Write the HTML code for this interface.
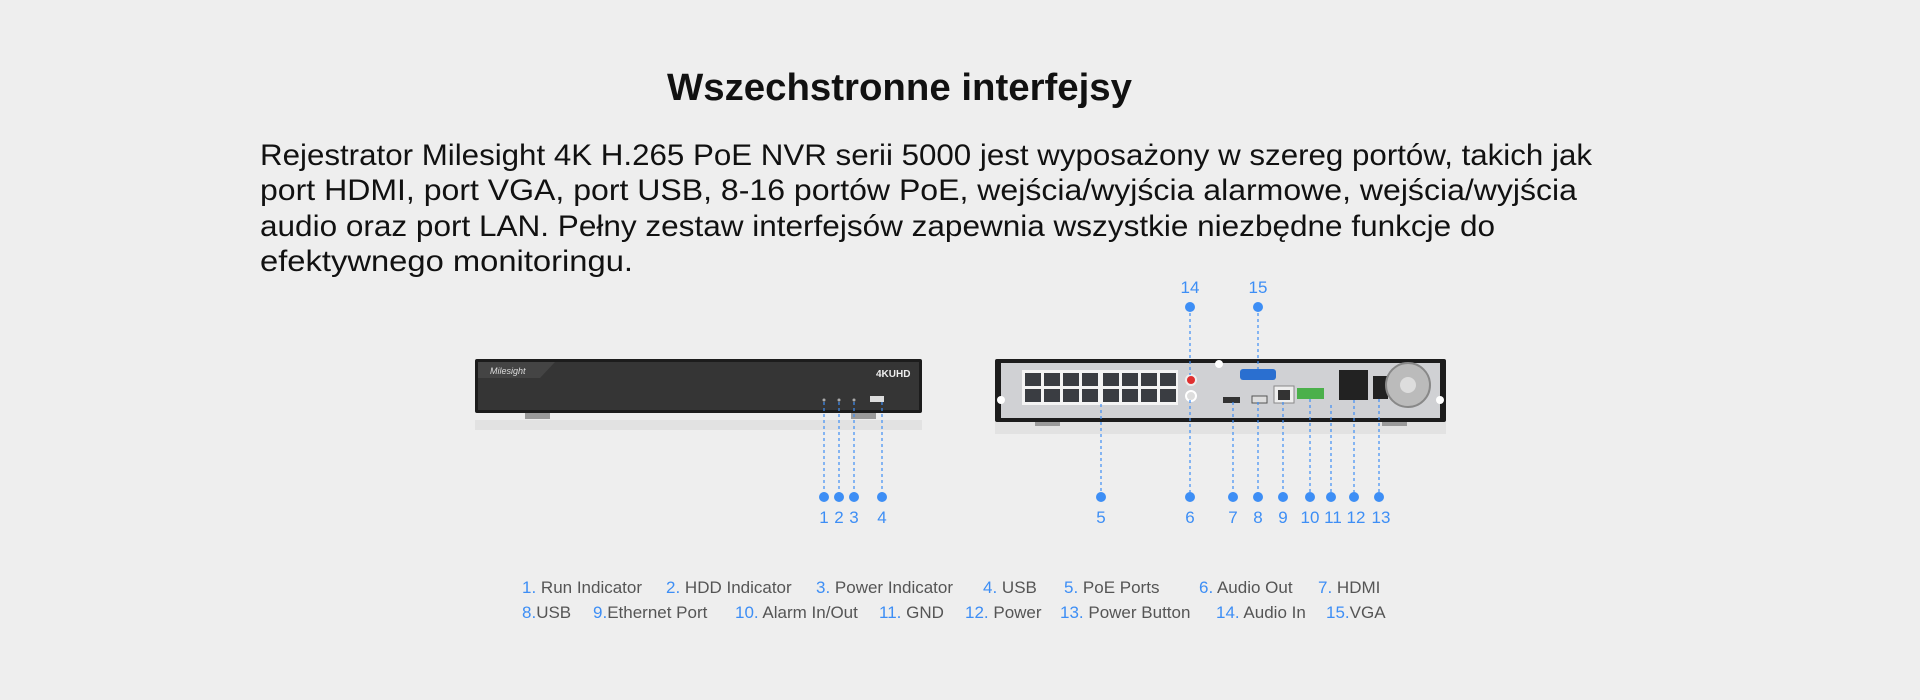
<!DOCTYPE html>
<html><head><meta charset="utf-8"><style>
html,body{margin:0;padding:0;background:#eeeeee;}
svg{display:block}
</style></head><body>
<svg width="1920" height="700" viewBox="0 0 1920 700" xmlns="http://www.w3.org/2000/svg" font-family="'Liberation Sans',sans-serif">
<rect width="1920" height="700" fill="#eeeeee"/>
<text x="667" y="100" font-size="38" font-weight="bold" fill="#111" textLength="465" lengthAdjust="spacingAndGlyphs">Wszechstronne interfejsy</text>
<g font-size="30" fill="#111" lengthAdjust="spacingAndGlyphs">
<text x="260" y="165" textLength="1332" lengthAdjust="spacingAndGlyphs">Rejestrator Milesight 4K H.265 PoE NVR serii 5000 jest wyposażony w szereg portów, takich jak</text>
<text x="260" y="200" textLength="1317" lengthAdjust="spacingAndGlyphs">port HDMI, port VGA, port USB, 8-16 portów PoE, wejścia/wyjścia alarmowe, wejścia/wyjścia</text>
<text x="260" y="236" textLength="1235" lengthAdjust="spacingAndGlyphs">audio oraz port LAN. Pełny zestaw interfejsów zapewnia wszystkie niezbędne funkcje do</text>
<text x="260" y="271" textLength="373" lengthAdjust="spacingAndGlyphs">efektywnego monitoringu.</text>
</g>
<!-- reflections -->
<rect x="475" y="420" width="447" height="10" fill="#e2e2e2"/>
<rect x="995" y="422" width="451" height="12" fill="#e2e2e2"/>
<!-- front unit -->
<rect x="525" y="410" width="25" height="9" fill="#9a9a9a"/>
<rect x="851" y="410" width="25" height="9" fill="#9a9a9a"/>
<rect x="475" y="359" width="447" height="54" rx="2" fill="#1c1c1c"/>
<rect x="478" y="362" width="441" height="48" fill="#353535"/>
<polygon points="478,362 555,362 540,378 478,378" fill="#444"/>
<text x="490" y="374" font-size="9" font-style="italic" fill="#ddd">Milesight</text>
<text x="876" y="377" font-size="10" font-weight="bold" fill="#eee">4KUHD</text>
<rect x="870" y="396" width="14" height="6" fill="#ddd"/>
<circle cx="824" cy="400" r="1.5" fill="#aaa"/><circle cx="839" cy="400" r="1.5" fill="#aaa"/><circle cx="854" cy="400" r="1.5" fill="#aaa"/>
<!-- rear unit -->
<rect x="1035" y="416" width="25" height="10" fill="#9a9a9a"/>
<rect x="1382" y="416" width="25" height="10" fill="#9a9a9a"/>
<rect x="995" y="359" width="451" height="63" rx="2" fill="#1c1c1c"/>
<rect x="1001" y="363" width="439" height="55" fill="#d0d1d4"/>
<rect x="1022" y="370" width="156" height="35" fill="#f4f4f4"/>
<g fill="#3a3d42">
<rect x="1025" y="373" width="16" height="13"/><rect x="1044" y="373" width="16" height="13"/><rect x="1063" y="373" width="16" height="13"/><rect x="1082" y="373" width="16" height="13"/><rect x="1103" y="373" width="16" height="13"/><rect x="1122" y="373" width="16" height="13"/><rect x="1141" y="373" width="16" height="13"/><rect x="1160" y="373" width="16" height="13"/>
<rect x="1025" y="389" width="16" height="13"/><rect x="1044" y="389" width="16" height="13"/><rect x="1063" y="389" width="16" height="13"/><rect x="1082" y="389" width="16" height="13"/><rect x="1103" y="389" width="16" height="13"/><rect x="1122" y="389" width="16" height="13"/><rect x="1141" y="389" width="16" height="13"/><rect x="1160" y="389" width="16" height="13"/>
</g>
<circle cx="1191" cy="380" r="5" fill="#e03030" stroke="#eee" stroke-width="2"/>
<circle cx="1191" cy="396" r="5" fill="#ddd" stroke="#fff" stroke-width="2"/>
<circle cx="1219" cy="364" r="4" fill="#fff"/>
<rect x="1240" y="369" width="36" height="11" rx="3" fill="#2a6fd0"/>
<rect x="1223" y="397" width="17" height="6" fill="#333"/>
<rect x="1252" y="396" width="15" height="7" fill="#ddd" stroke="#555"/>
<rect x="1274" y="386" width="20" height="17" fill="#eee" stroke="#888"/>
<rect x="1278" y="390" width="12" height="10" fill="#333"/>
<rect x="1297" y="388" width="27" height="11" fill="#4bb04b"/>
<rect x="1339" y="370" width="29" height="30" fill="#222"/>
<rect x="1373" y="376" width="15" height="23" fill="#222"/>
<circle cx="1408" cy="385" r="22" fill="#bbb" stroke="#888" stroke-width="2"/>
<circle cx="1408" cy="385" r="8" fill="#ddd"/>
<circle cx="1001" cy="400" r="4" fill="#fff"/><circle cx="1440" cy="400" r="4" fill="#fff"/>
<!-- connectors -->
<g stroke="#3d8ef5" stroke-width="1.2" stroke-dasharray="3,3" fill="none">
<line x1="824" y1="402" x2="824" y2="497"/><line x1="839" y1="402" x2="839" y2="497"/><line x1="854" y1="402" x2="854" y2="497"/><line x1="882" y1="402" x2="882" y2="497"/>
<line x1="1101" y1="404" x2="1101" y2="497"/><line x1="1190" y1="400" x2="1190" y2="497"/><line x1="1233" y1="402" x2="1233" y2="497"/><line x1="1258" y1="402" x2="1258" y2="497"/><line x1="1283" y1="402" x2="1283" y2="497"/><line x1="1310" y1="399" x2="1310" y2="497"/><line x1="1331" y1="405" x2="1331" y2="497"/><line x1="1354" y1="400" x2="1354" y2="497"/><line x1="1379" y1="399" x2="1379" y2="497"/>
<line x1="1190" y1="307" x2="1190" y2="375"/><line x1="1258" y1="307" x2="1258" y2="369"/>
</g>
<g fill="#3d8ef5">
<circle cx="824" cy="497" r="5"/><circle cx="839" cy="497" r="5"/><circle cx="854" cy="497" r="5"/><circle cx="882" cy="497" r="5"/>
<circle cx="1101" cy="497" r="5"/><circle cx="1190" cy="497" r="5"/><circle cx="1233" cy="497" r="5"/><circle cx="1258" cy="497" r="5"/><circle cx="1283" cy="497" r="5"/><circle cx="1310" cy="497" r="5"/><circle cx="1331" cy="497" r="5"/><circle cx="1354" cy="497" r="5"/><circle cx="1379" cy="497" r="5"/>
<circle cx="1190" cy="307" r="5"/><circle cx="1258" cy="307" r="5"/>
</g>
<g fill="#3d8ef5" font-size="17" text-anchor="middle">
<text x="824" y="523">1</text><text x="839" y="523">2</text><text x="854" y="523">3</text><text x="882" y="523">4</text>
<text x="1101" y="523">5</text><text x="1190" y="523">6</text><text x="1233" y="523">7</text><text x="1258" y="523">8</text><text x="1283" y="523">9</text><text x="1310" y="523">10</text><text x="1333" y="523">11</text><text x="1356" y="523">12</text><text x="1381" y="523">13</text>
<text x="1190" y="293">14</text><text x="1258" y="293">15</text>
</g>
<g font-size="17" fill="#555">
<text x="522" y="593"><tspan fill="#3d8ef5">1.</tspan> Run Indicator</text>
<text x="666" y="593"><tspan fill="#3d8ef5">2.</tspan> HDD Indicator</text>
<text x="816" y="593"><tspan fill="#3d8ef5">3.</tspan> Power Indicator</text>
<text x="983" y="593"><tspan fill="#3d8ef5">4.</tspan> USB</text>
<text x="1064" y="593"><tspan fill="#3d8ef5">5.</tspan> PoE Ports</text>
<text x="1199" y="593"><tspan fill="#3d8ef5">6.</tspan> Audio Out</text>
<text x="1318" y="593"><tspan fill="#3d8ef5">7.</tspan> HDMI</text>
<text x="522" y="618"><tspan fill="#3d8ef5">8.</tspan>USB</text>
<text x="593" y="618"><tspan fill="#3d8ef5">9.</tspan>Ethernet Port</text>
<text x="735" y="618"><tspan fill="#3d8ef5">10.</tspan> Alarm In/Out</text>
<text x="879" y="618"><tspan fill="#3d8ef5">11.</tspan> GND</text>
<text x="965" y="618"><tspan fill="#3d8ef5">12.</tspan> Power</text>
<text x="1060" y="618"><tspan fill="#3d8ef5">13.</tspan> Power Button</text>
<text x="1216" y="618"><tspan fill="#3d8ef5">14.</tspan> Audio In</text>
<text x="1326" y="618"><tspan fill="#3d8ef5">15.</tspan>VGA</text>
</g>
</svg>
</body></html>
